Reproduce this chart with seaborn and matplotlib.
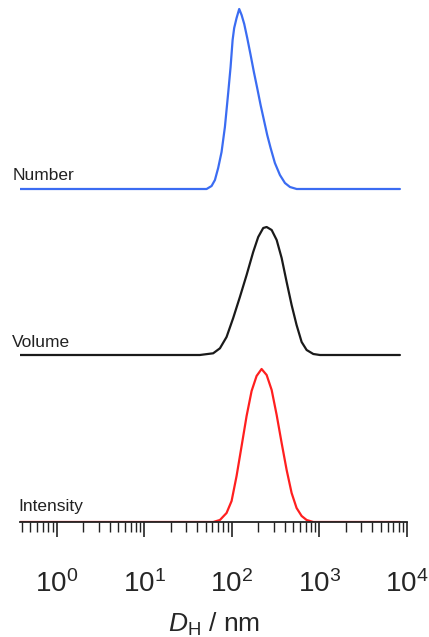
import matplotlib
matplotlib.use("Agg")
import matplotlib.pyplot as plt
import matplotlib.ticker as mticker
import seaborn as sns
import pandas as pd

# Number distribution (blue)
num_d = [0.38, 51.4, 58.6, 64.0, 69.7, 76.2, 83.2, 90.7, 96.6, 101.9, 106.2, 113.1, 121.2,
         129.1, 138.3, 149.7, 163.6, 178.3, 194.5, 212.7, 232.1, 253.2, 276.8, 309.8,
         353.7, 403.6, 460.6, 549, 8300]
num_v = [0, 0, 3, 9, 21, 37, 62, 96, 122, 149, 161, 171, 180,
         174, 165, 151, 134, 117, 101, 84, 69, 54, 41, 26,
         14, 6, 2, 0, 0]

# Volume distribution (black)
vol_d = [0.38, 43, 61.1, 73, 86.9, 103.5, 123.4, 147.2, 175.1, 199.8, 228, 249.4, 284.6,
         324.6, 370, 422, 481, 548, 626, 714, 851, 1013, 8300]
vol_v = [0, 0, 1.7, 6.7, 18, 37, 58, 80, 103, 118, 127, 128, 125,
         115, 97, 73, 50, 30, 13, 5, 1, 0, 0]

# Intensity distribution (red)
int_d = [0.38, 61.1, 73, 86.9, 99.2, 113.1, 129.1, 147.2, 167.9, 191.4, 218.3, 249.4,
         284.6, 324.6, 370, 422, 481, 548, 626, 714, 851, 8300]
int_v = [0, 0, 2, 9, 21, 46, 76, 106, 131, 146, 153, 147,
         132, 107, 79, 52, 29, 14, 6, 2, 0, 0]

names = ["Number", "Volume", "Intensity"]
colors = ["#3b6cf2", "#1a1a1a", "#ff1f1f"]
offsets = [333, 167, 0]

frames = []
for name, d, v, off in zip(names, [num_d, vol_d, int_d], [num_v, vol_v, int_v], offsets):
    frames.append(pd.DataFrame({"D": d, "y": [a + off for a in v], "kind": name}))
df = pd.concat(frames, ignore_index=True)

sns.set_style("ticks")
plt.rcParams["font.family"] = ["Liberation Sans", "DejaVu Sans"]
plt.rcParams["mathtext.fontset"] = "custom"
plt.rcParams["mathtext.rm"] = "Liberation Sans"
plt.rcParams["mathtext.it"] = "Liberation Sans:italic"

fig = plt.figure(figsize=(4.29, 6.37), dpi=100)
ax = fig.add_axes([20 / 429, 115 / 637, 387 / 429, 517 / 637])

sns.lineplot(data=df, x="D", y="y", hue="kind", palette=dict(zip(names, colors)),
             linewidth=1.6, legend=False, ax=ax, sort=False,
             solid_joinstyle="round", solid_capstyle="round")

ax.set_xscale("log")
ax.set_xlim(0.38, 1e4)
ax.set_ylim(0, 517)

label_pos = [(0.31, 342), (0.31, 175), (0.36, 11)]
for name, (x, y) in zip(names, label_pos):
    ax.text(x, y, name, fontsize=12.5, color="#222222", va="baseline", ha="left", clip_on=False)

for s in ["top", "left", "right"]:
    ax.spines[s].set_visible(False)
ax.spines["bottom"].set_linewidth(1.3)
ax.spines["bottom"].set_color("#222222")
ax.set_yticks([])

ax.set_xticks([1, 10, 100, 1000, 10000],
              labels=[r"$\mathregular{10^{%d}}$" % i for i in range(5)])
ax.xaxis.set_minor_locator(mticker.LogLocator(base=10, subs=range(2, 10), numticks=100))
ax.xaxis.set_minor_formatter(mticker.NullFormatter())
ax.tick_params(axis="x", which="major", direction="out", length=11, width=1.2,
               labelsize=20, pad=24, color="#222222")
ax.tick_params(axis="x", which="minor", direction="out", length=7, width=1.0,
               color="#222222", bottom=True)

ax.set_xlabel(r"$\mathit{D}_{\mathregular{H}}$ / nm", fontsize=19, labelpad=9)
ax.set_ylabel("")

fig.savefig("out.png", dpi=100)
